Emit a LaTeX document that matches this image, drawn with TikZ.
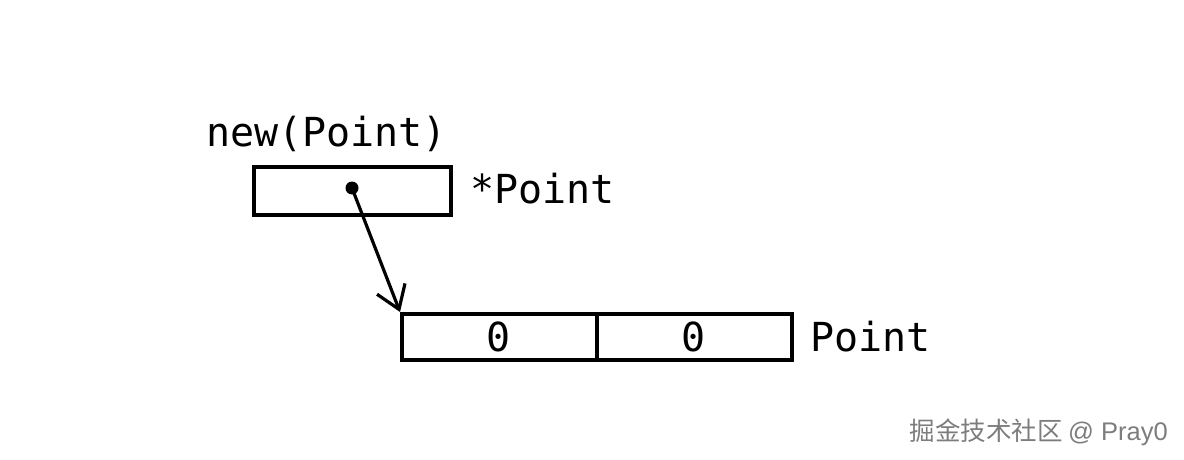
\documentclass[tikz,border=0pt]{standalone}
\usepackage{fontspec}
\setmonofont{DejaVu Sans Mono}
\newfontfamily\cjk{Noto Sans CJK SC}
\usetikzlibrary{arrows.meta}
\definecolor{wmgray}{RGB}{125,125,125}
\tikzset{
  cell/.style={draw, line width=3.8pt, minimum height=48pt, inner sep=0pt, anchor=north west},
  lbl/.style={font=\fontsize{40}{40}\selectfont\ttfamily, inner sep=0pt},
  ptr/.style={line width=3.2pt, -{Straight Barb[length=22pt,width=30pt,line width=3.2pt]}},
}
\begin{document}
\begin{tikzpicture}[x=1pt,y=-1pt]
\useasboundingbox (0,0) rectangle (1184,460);
\node[cell, minimum width=197pt] (pbox) at (252,165) {};
\node[lbl, anchor=base west] (newlbl) at (206,146) {new(Point)};
\node[lbl, anchor=base west] (ptrlbl) at (470,203) {*Point};
\node[cell, minimum width=195pt, minimum height=46pt] (c1) at (400,312) {};
\node[cell, minimum width=195pt, minimum height=46pt] (c2) at (595,312) {};
\node[lbl] (z1) at (c1.center) {\hspace*{-2pt}0};
\node[lbl] (z2) at (c2.center) {\hspace*{-2pt}0};
\node[lbl, anchor=base west] (structlbl) at (810,351) {Point};
\coordinate (dot) at (352,188);
\fill (dot) circle (6.5pt);
\draw[ptr] (dot) -- (c1.north west);
\node[font=\cjk\fontsize{25.5}{25.5}\selectfont, text=wmgray, anchor=base east, inner sep=0pt] (wm) at (1168,440) {掘金技术社区 {\fontspec{Liberation Sans}@ Pray0}};
\end{tikzpicture}
\end{document}
